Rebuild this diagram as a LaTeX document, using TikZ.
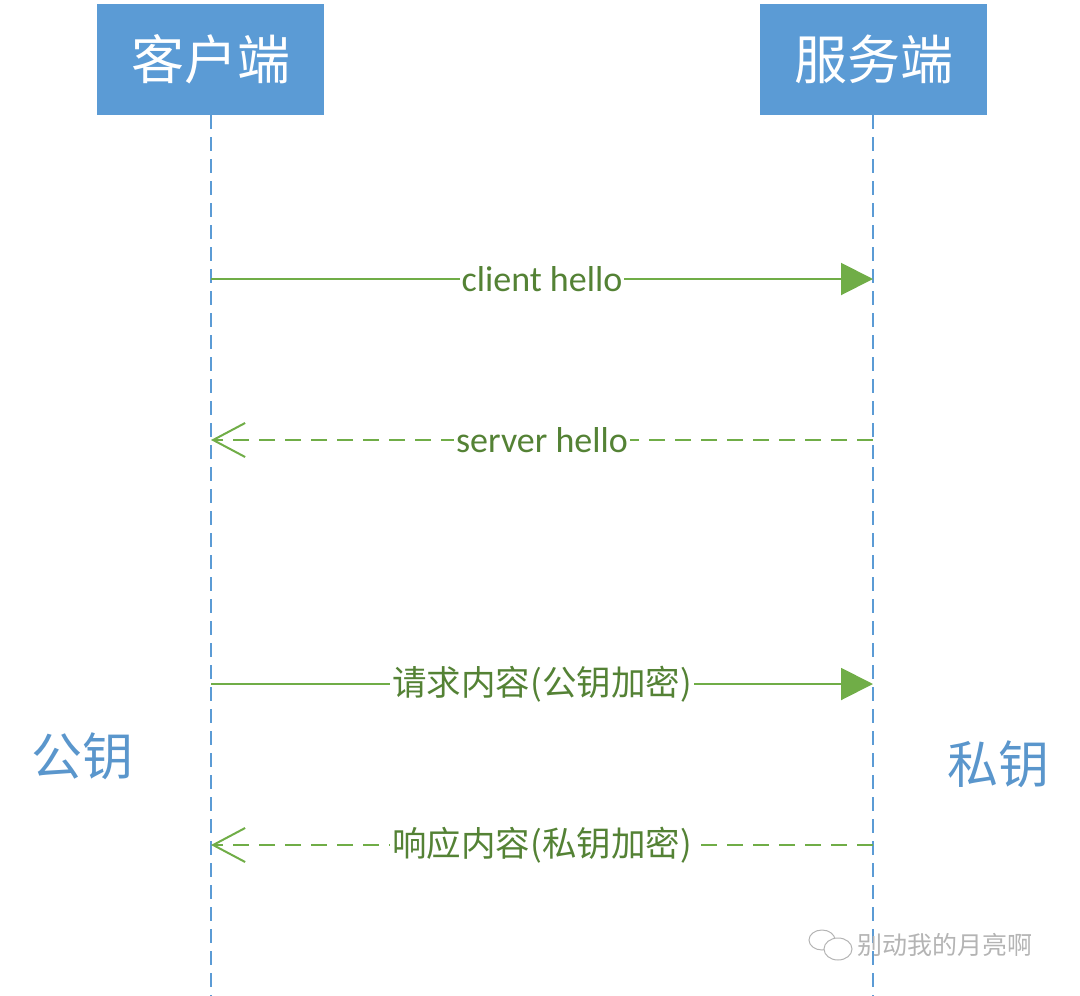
\documentclass[tikz,border=0pt]{standalone}
\usepackage{fontspec}
\setmainfont{Carlito}
\newfontfamily\cjk{Noto Sans CJK SC}
\usetikzlibrary{arrows.meta}
\definecolor{boxblue}{HTML}{5B9BD5}
\definecolor{lineblue}{HTML}{5B9BD5}
\definecolor{msggreen}{HTML}{70AD47}
\definecolor{txtgreen}{HTML}{548235}
\definecolor{keyblue}{HTML}{5A96CC}
\definecolor{wmgray}{HTML}{B4B4B4}
\tikzset{
  hbox/.style={fill=boxblue, draw=none, minimum width=227pt, minimum height=111pt, inner sep=0pt, text=white, font=\cjk\fontsize{53}{58}\selectfont},
  lifeline/.style={draw=lineblue, line width=1.5pt, dash pattern=on 14pt off 8pt},
  reqmsg/.style={draw=msggreen, line width=2pt, -{Triangle[length=32pt, width=32pt]}},
  repmsg/.style={draw=msggreen, line width=2pt, dash pattern=on 16pt off 10pt, -{Straight Barb[length=32pt, width=34pt, line width=2pt]}},
  lbl/.style={fill=white, inner xsep=2pt, inner ysep=1pt, text=txtgreen, font=\fontsize{36}{40}\selectfont},
  cjklbl/.style={fill=white, inner xsep=2pt, inner ysep=1pt, text=txtgreen, font=\cjk\fontsize{34.5}{40}\selectfont},
  keylbl/.style={text=keyblue, inner sep=0pt, font=\cjk\fontsize{51}{56}\selectfont},
  wm/.style={text=wmgray, inner sep=0pt, font=\cjk\fontsize{25}{30}\selectfont}
}
\begin{document}
\begin{tikzpicture}[x=1pt, y=-1pt]
\useasboundingbox (0,0) rectangle (1080,996);
% header boxes
\node[hbox] (cli) at (210.5,59.5) {客户端};
\node[hbox] (srv) at (873.5,59.5) {服务端};
% lifeline ends
\coordinate (cliend) at (211,996);
\coordinate (srvend) at (873,996);
\draw[lifeline] (cli.south -| cliend) -- (cliend);
\draw[lifeline] (srv.south -| srvend) -- (srvend);
% message anchors
\coordinate (l1) at (211,279); \coordinate (r1) at (873,279);
\coordinate (l2) at (211,440); \coordinate (r2) at (873,440);
\coordinate (l3) at (211,684); \coordinate (r3) at (873,684);
\coordinate (l4) at (211,845); \coordinate (r4) at (873,845);
% messages
\draw[reqmsg] (l1) -- node[lbl] (m1) {client hello} (r1);
\draw[repmsg] (r2) -- node[lbl] (m2) {server hello} (l2);
\draw[reqmsg] (l3) -- node[cjklbl] (m3) {请求内容(公钥加密)} (r3);
\draw[repmsg] (r4) -- node[cjklbl] (m4) {响应内容(私钥加密)} (l4);
% key labels
\node[keylbl] (pub) at (82,756) {公钥};
\node[keylbl] (priv) at (998,764) {私钥};
% watermark
\node[wm, anchor=west] (wmtext) at (857,945) {别动我的月亮啊};
\draw[wmgray, line width=1pt] (822,940) ellipse [x radius=13pt, y radius=10pt];
\draw[wmgray, line width=1pt, fill=white] (838,949) ellipse [x radius=14pt, y radius=11pt];
\end{tikzpicture}
\end{document}
